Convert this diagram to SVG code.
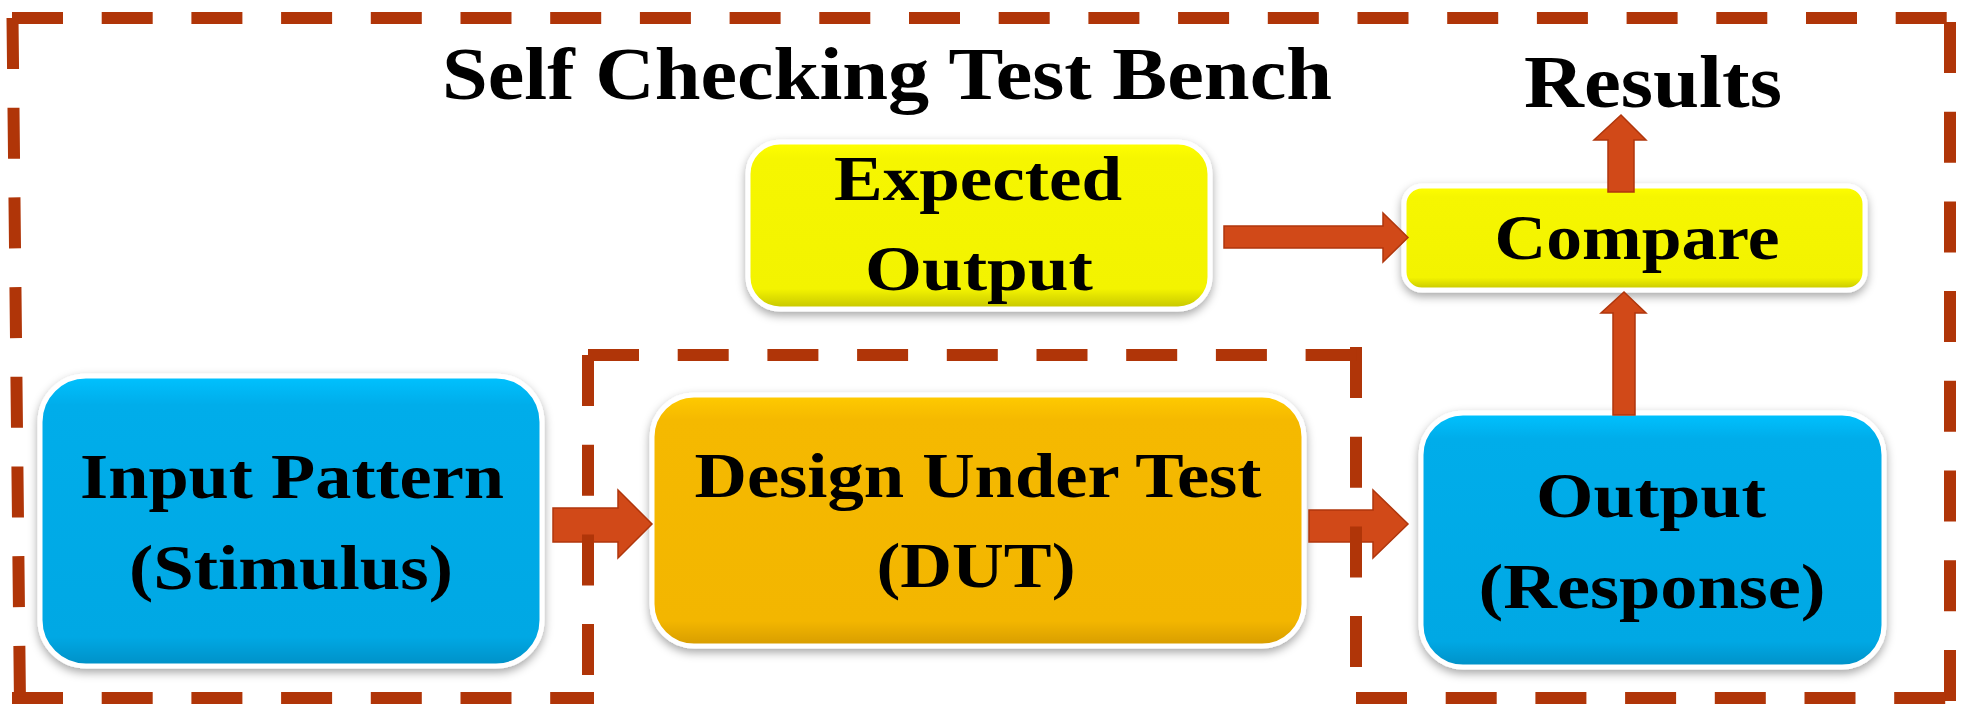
<svg xmlns="http://www.w3.org/2000/svg" width="1964" height="707" viewBox="0 0 1964 707">
  <defs>
    <linearGradient id="gBlue" x1="0" y1="0" x2="0" y2="1">
      <stop offset="0" stop-color="#00C2FF"/>
      <stop offset="0.1" stop-color="#00ADEA"/>
      <stop offset="0.9" stop-color="#00A8E4"/>
      <stop offset="1" stop-color="#0090C6"/>
    </linearGradient>
    <linearGradient id="gOrange" x1="0" y1="0" x2="0" y2="1">
      <stop offset="0" stop-color="#FFCB00"/>
      <stop offset="0.1" stop-color="#F5B900"/>
      <stop offset="0.9" stop-color="#F3B600"/>
      <stop offset="1" stop-color="#D69C00"/>
    </linearGradient>
    <linearGradient id="gYellow" x1="0" y1="0" x2="0" y2="1">
      <stop offset="0" stop-color="#FFFF00"/>
      <stop offset="0.1" stop-color="#F6F600"/>
      <stop offset="0.88" stop-color="#F3F300"/>
      <stop offset="1" stop-color="#C4C400"/>
    </linearGradient>
    <filter id="shadow" x="-10%" y="-10%" width="120%" height="130%">
      <feDropShadow dx="0" dy="4" stdDeviation="5" flood-color="#000" flood-opacity="0.35"/>
    </filter>
  </defs>
  <style>
    .box { stroke: #FFFFFF; stroke-width: 5; filter: url(#shadow); }
    .lbl { font-family: "Liberation Serif", "Times New Roman", serif; font-weight: bold; fill: #000; text-anchor: middle; }
    .n { font-size: 64px; }
    .big { font-size: 75px; }
    .arrow { fill: #D14918; stroke: #B0360C; stroke-width: 1.5; }
    .dash { stroke: #B03508; stroke-width: 12; stroke-dasharray: 51 38.7; fill: none; stroke-linecap: butt; }
  </style>
  <rect width="1964" height="707" fill="#FFFFFF"/>

  <g id="title">
    <text class="lbl big" x="887" y="99" textLength="890" lengthAdjust="spacingAndGlyphs">Self Checking Test Bench</text>
  </g>
  <g id="results">
    <text class="lbl big" x="1653" y="107" textLength="258" lengthAdjust="spacingAndGlyphs">Results</text>
  </g>

  <g id="input-pattern">
    <rect class="box" x="40" y="376" width="502" height="290" rx="46" fill="url(#gBlue)"/>
    <text class="lbl n" x="292" y="498" textLength="424" lengthAdjust="spacingAndGlyphs">Input Pattern</text>
    <text class="lbl n" x="291" y="589" textLength="324" lengthAdjust="spacingAndGlyphs">(Stimulus)</text>
  </g>

  <g id="dut">
    <rect class="box" x="652" y="395" width="652" height="251" rx="42" fill="url(#gOrange)"/>
    <text class="lbl n" x="978" y="497" textLength="567" lengthAdjust="spacingAndGlyphs">Design Under Test</text>
    <text class="lbl n" x="976" y="587" textLength="199" lengthAdjust="spacingAndGlyphs">(DUT)</text>
  </g>

  <g id="output-response">
    <rect class="box" x="1421" y="413" width="463" height="254" rx="42" fill="url(#gBlue)"/>
    <text class="lbl n" x="1651" y="517" textLength="230" lengthAdjust="spacingAndGlyphs">Output</text>
    <text class="lbl n" x="1652" y="608" textLength="347" lengthAdjust="spacingAndGlyphs">(Response)</text>
  </g>

  <g id="expected-output">
    <rect class="box" x="748" y="142" width="462" height="167" rx="32" fill="url(#gYellow)"/>
    <text class="lbl n" x="978" y="200" textLength="288" lengthAdjust="spacingAndGlyphs">Expected</text>
    <text class="lbl n" x="979" y="290" textLength="228" lengthAdjust="spacingAndGlyphs">Output</text>
  </g>

  <g id="compare">
    <rect class="box" x="1404" y="186" width="461" height="104" rx="18" fill="url(#gYellow)"/>
    <text class="lbl n" x="1637" y="259" textLength="285" lengthAdjust="spacingAndGlyphs">Compare</text>
  </g>

  <g id="connectors">
    <path class="arrow" d="M553,508 H618 V490 L652,524 L618,558 V542 H553 Z"/>
    <path class="arrow" d="M1309,510 H1373 V490 L1408,524 L1373,558 V542 H1309 Z"/>
    <path class="arrow" d="M1224,226 H1383 V213 L1408,237.5 L1383,262 V248 H1224 Z"/>
    <path class="arrow" d="M1608,192 V140 H1594 L1621,115 L1646,140 H1634 V192 Z"/>
    <path class="arrow" d="M1613,415 V313 H1601 L1624,292 L1646,313 H1635 V415 Z"/>
  </g>

  <g id="boundary">
    <path class="dash" d="M12,18 H1950"/>
    <path class="dash" d="M1950,22 V704"/>
    <path class="dash" d="M1356,698 H1950"/>
    <path class="dash" d="M1356,347 V704"/>
    <path class="dash" d="M588,355 H1362"/>
    <path class="dash" d="M588,355 V704"/>
    <path class="dash" d="M12,698 H594"/>
    <path class="dash" d="M12.5,18 L20,704"/>
  </g>
</svg>
